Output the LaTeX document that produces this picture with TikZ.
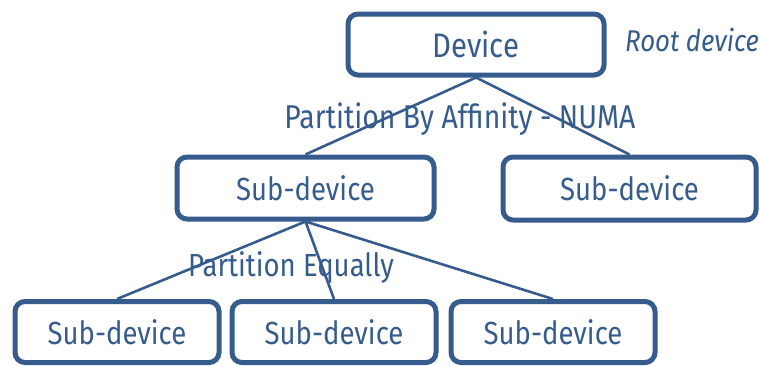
\documentclass[tikz,border=0pt]{standalone}
\usepackage{fontspec}
\setmainfont{Fira Sans}[FakeStretch=0.86]
\definecolor{ib}{HTML}{355C8C}
\begin{document}
\begin{tikzpicture}[x=1pt,y=-1pt,
  dev/.style={draw=ib, line width=5pt, rounded corners=10pt, text=ib, inner sep=0pt,
    font=\fontsize{32}{38}\selectfont},
  conn/.style={draw=ib, line width=2.6pt},
  lbl/.style={text=ib, inner sep=0pt, font=\fontsize{32}{38}\selectfont}]
\useasboundingbox (0,0) rectangle (760,365);
\node[dev, minimum width=256pt, minimum height=61pt, font=\fontsize{34}{40}\selectfont] (root) at (476,44.5) {Device};
\node[lbl, anchor=west, font=\fontsize{30}{36}\itshape] (rootl) at (625,40) {Root device};
\node[dev, minimum width=257pt, minimum height=62pt] (s1) at (305.5,188) {Sub-device};
\node[dev, minimum width=253pt, minimum height=63pt] (s2) at (629.5,188.5) {Sub-device};
\node[dev, minimum width=204pt, minimum height=61pt] (b1) at (117,332) {Sub-device};
\node[dev, minimum width=204pt, minimum height=61pt] (b2) at (334,332) {Sub-device};
\node[dev, minimum width=204pt, minimum height=61pt] (b3) at (553,332) {Sub-device};
\draw[conn] (root.south) -- (s1.north);
\draw[conn] (root.south) -- (s2.north);
\draw[conn] (s1.south) -- (b1.north);
\draw[conn] (s1.south) -- (b2.north);
\draw[conn] (s1.south) -- (b3.north);
\node[lbl, font=\fontsize{33}{40}\selectfont] (p1) at (460,119) {Partition By Affinity - NUMA};
\node[lbl] (p2) at (291,267) {Partition Equally};
\end{tikzpicture}
\end{document}
